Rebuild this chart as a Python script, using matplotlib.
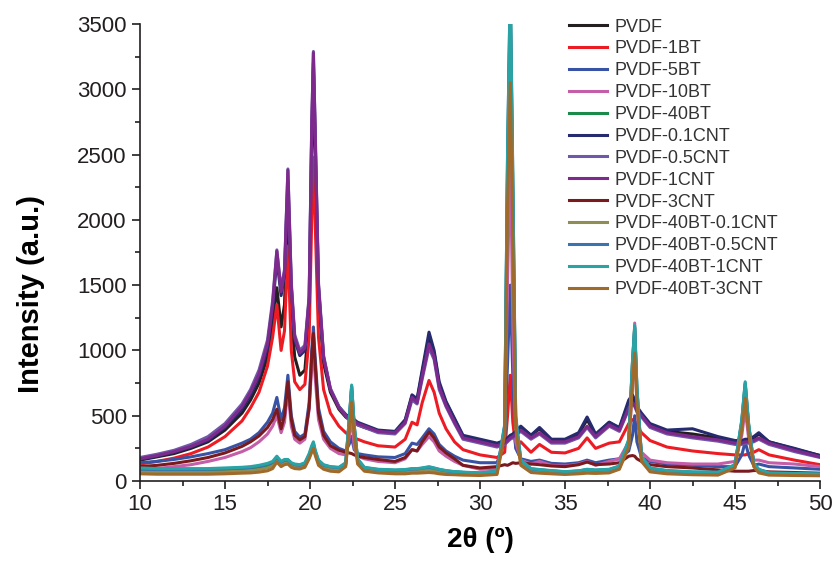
import numpy as np
import matplotlib
matplotlib.use("Agg")
import matplotlib.pyplot as plt
from matplotlib.ticker import MultipleLocator

plt.rcParams["font.family"] = ["Liberation Sans", "DejaVu Sans"]

# shared 2-theta grid (degrees)
two_theta = [
    10, 11, 12, 13, 14, 15, 16, 16.5, 17, 17.5,
    17.8, 18.05, 18.3, 18.5, 18.7, 18.9, 19.1, 19.4, 19.7, 19.95,
    20.1, 20.2, 20.3, 20.5, 20.8, 21.2, 21.7, 22.1, 22.3, 22.45,
    22.6, 22.8, 23.2, 24, 25, 25.6, 26.0, 26.3, 26.6, 27.0,
    27.3, 27.6, 28.0, 28.5, 29, 30, 31.0, 31.45, 31.62, 31.78,
    31.93, 32.1, 32.4, 33.0, 33.5, 34.2, 35, 35.8, 36.3, 36.8,
    37.6, 38.2, 38.75, 38.97, 39.1, 39.23, 39.5, 40, 41, 42.5,
    44, 45.0, 45.4, 45.6, 45.8, 46.1, 46.4, 47, 48.5, 50,
]

pvdf = [
    160, 185, 210, 250, 300, 390, 520, 620, 750, 950,
    1200, 1480, 1180, 1350, 2200, 1300, 950, 810, 850, 1250,
    2500, 3150, 2550, 1400, 900, 680, 550, 490, 470, 460,
    450, 430, 410, 380, 370, 460, 650, 620, 830, 1100,
    980, 740, 600, 470, 340, 310, 285, 300, 320, 340,
    350, 370, 410, 350, 400, 310, 310, 360, 470, 350,
    450, 400, 600, 640, 600, 560, 510, 430, 380, 360,
    330, 300, 300, 310, 310, 330, 360, 300, 245, 195,
]
pvdf_1bt = [
    130, 150, 175, 210, 260, 340, 460, 560, 680, 880,
    1100, 1350, 1000, 1150, 1800, 1000, 760, 700, 740, 1100,
    2000, 2480, 2000, 1100, 700, 520, 420, 370, 350, 340,
    330, 320, 300, 270, 260, 320, 450, 430, 600, 770,
    680, 520, 400, 300, 240, 200, 180, 220, 500, 810,
    450, 260, 300, 220, 280, 220, 215, 250, 330, 250,
    290, 300, 440, 470, 460, 420, 370, 310, 260, 230,
    210, 200, 200, 200, 210, 220, 240, 200, 160, 125,
]
pvdf_5bt = [
    140, 150, 165, 185, 210, 240, 290, 320, 370, 450,
    520, 640, 470, 560, 810, 500, 380, 335, 360, 600,
    1000, 1180, 950, 560, 380, 300, 250, 230, 280, 330,
    240, 210, 200, 185, 180, 210, 290, 280, 330, 400,
    360, 280, 230, 190, 160, 140, 140, 300, 900, 1500,
    800, 250, 170, 150, 160, 135, 130, 140, 160, 140,
    160, 170, 230, 350, 500, 300, 180, 150, 130, 120,
    110, 110, 200, 300, 200, 120, 130, 110, 100, 90,
]
pvdf_10bt = [
    85, 95, 110, 125, 150, 180, 225, 255, 300, 360,
    420, 500, 370, 450, 700, 420, 320, 290, 320, 550,
    870, 980, 800, 470, 320, 250, 210, 200, 330, 500,
    260, 190, 170, 150, 140, 170, 240, 230, 280, 340,
    300, 230, 190, 150, 120, 90, 90, 400, 1500, 2600,
    1200, 300, 160, 130, 150, 120, 115, 130, 150, 120,
    150, 170, 300, 700, 1210, 550, 220, 160, 140, 130,
    130, 150, 350, 550, 330, 160, 160, 140, 130, 110,
]
pvdf_40bt = [
    80, 80, 78, 78, 80, 82, 88, 92, 100, 115,
    130, 170, 140, 150, 160, 130, 120, 115, 130, 190,
    240, 280, 220, 150, 120, 105, 100, 130, 450, 720,
    420, 160, 100, 85, 80, 82, 90, 90, 95, 100,
    95, 85, 75, 70, 65, 60, 70, 400, 2400, 3700,
    2200, 450, 150, 90, 85, 75, 70, 75, 85, 80,
    85, 110, 300, 900, 1180, 700, 180, 95, 75, 65,
    65, 120, 450, 740, 430, 130, 85, 60, 55, 50,
]
pvdf_01cnt = [
    165, 190, 220, 260, 310, 410, 550, 660, 800, 1020,
    1320, 1700, 1420, 1580, 2300, 1480, 1080, 960, 1000, 1380,
    2650, 3200, 2650, 1480, 940, 700, 570, 510, 490, 480,
    470, 450, 430, 390, 380, 470, 660, 630, 850, 1140,
    1000, 760, 610, 480, 350, 320, 290, 310, 330, 350,
    360, 380, 420, 350, 410, 320, 320, 370, 490, 360,
    450, 410, 620, 660, 620, 570, 520, 440, 390, 400,
    340, 310, 310, 320, 320, 340, 370, 300, 250, 195,
]
pvdf_05cnt = [
    180, 205, 235, 280, 340, 440, 590, 700, 850, 1080,
    1380, 1770, 1470, 1620, 2390, 1520, 1120, 1000, 1040, 1420,
    2720, 3290, 2720, 1520, 960, 710, 570, 500, 470, 460,
    450, 430, 410, 370, 360, 440, 620, 590, 780, 1020,
    930, 700, 570, 440, 320, 290, 260, 280, 300, 320,
    330, 350, 380, 320, 360, 290, 290, 330, 410, 330,
    420, 380, 550, 590, 570, 530, 490, 410, 360, 330,
    305, 280, 280, 290, 290, 300, 320, 280, 225, 180,
]
pvdf_1cnt = [
    170, 195, 225, 265, 320, 420, 570, 680, 820, 1050,
    1350, 1760, 1450, 1600, 2380, 1500, 1100, 980, 1020, 1400,
    2700, 3280, 2700, 1500, 950, 700, 560, 500, 480, 470,
    460, 440, 420, 380, 370, 450, 640, 600, 800, 1050,
    950, 720, 580, 450, 330, 300, 270, 290, 310, 330,
    340, 360, 390, 330, 370, 300, 300, 340, 420, 340,
    430, 390, 560, 600, 580, 540, 500, 420, 370, 340,
    315, 290, 290, 300, 300, 310, 330, 290, 235, 185,
]
pvdf_3cnt = [
    110, 120, 135, 155, 180, 215, 265, 300, 345, 410,
    470, 550, 400, 500, 760, 470, 350, 315, 340, 560,
    950, 1130, 900, 520, 350, 270, 235, 220, 215, 210,
    200, 190, 180, 165, 150, 180, 240, 230, 300, 375,
    330, 260, 215, 170, 120, 100, 110, 125, 120, 130,
    140, 135, 140, 130, 125, 115, 110, 125, 145, 125,
    130, 140, 190, 195, 190, 170, 150, 125, 110, 100,
    85, 75, 75, 75, 75, 80, 80, 70, 65, 60,
]
pvdf_40bt_01cnt = [
    70, 68, 66, 66, 68, 70, 75, 80, 88, 100,
    115, 160, 125, 140, 145, 118, 108, 105, 118, 180,
    230, 265, 210, 135, 105, 90, 85, 120, 420, 670,
    390, 150, 90, 75, 70, 70, 76, 76, 80, 85,
    80, 72, 65, 60, 56, 52, 60, 380, 2300, 3600,
    2100, 430, 135, 80, 75, 65, 60, 66, 74, 70,
    74, 100, 280, 840, 1100, 650, 165, 82, 66, 58,
    56, 110, 420, 690, 400, 120, 75, 54, 50, 46,
]
pvdf_40bt_05cnt = [
    90, 88, 88, 88, 90, 94, 100, 105, 112, 128,
    142, 180, 145, 158, 160, 135, 125, 120, 135, 200,
    255, 290, 230, 155, 120, 108, 102, 135, 455, 725,
    425, 165, 102, 88, 82, 85, 92, 92, 98, 105,
    98, 88, 78, 70, 66, 60, 72, 430, 2500, 3800,
    2350, 500, 160, 92, 86, 78, 70, 76, 88, 82,
    88, 112, 310, 910, 1170, 710, 185, 98, 78, 68,
    66, 122, 460, 750, 435, 132, 88, 60, 56, 52,
]
pvdf_40bt_1cnt = [
    100, 95, 95, 95, 95, 100, 105, 110, 120, 135,
    150, 190, 150, 165, 165, 140, 130, 125, 140, 210,
    270, 300, 240, 160, 125, 110, 105, 140, 460, 735,
    430, 170, 105, 90, 85, 88, 95, 95, 100, 110,
    100, 90, 80, 72, 68, 62, 75, 420, 2500, 3800,
    2300, 480, 160, 95, 88, 80, 72, 78, 90, 85,
    90, 115, 320, 920, 1190, 720, 190, 100, 80, 70,
    68, 125, 470, 760, 440, 135, 90, 62, 58, 55,
]
pvdf_40bt_3cnt = [
    55, 52, 52, 52, 52, 55, 60, 62, 68, 78,
    95, 145, 110, 125, 130, 105, 95, 92, 105, 170,
    220, 250, 200, 120, 90, 75, 70, 110, 380, 605,
    350, 130, 75, 62, 55, 55, 60, 60, 62, 65,
    62, 55, 50, 48, 45, 42, 50, 350, 2100, 3050,
    1900, 400, 120, 65, 60, 55, 50, 55, 60, 58,
    62, 90, 260, 760, 980, 600, 150, 70, 55, 48,
    45, 100, 390, 635, 370, 110, 62, 45, 42, 40,
]

labels = ["PVDF", "PVDF-1BT", "PVDF-5BT", "PVDF-10BT", "PVDF-40BT",
          "PVDF-0.1CNT", "PVDF-0.5CNT", "PVDF-1CNT", "PVDF-3CNT",
          "PVDF-40BT-0.1CNT", "PVDF-40BT-0.5CNT", "PVDF-40BT-1CNT",
          "PVDF-40BT-3CNT"]
series = [pvdf, pvdf_1bt, pvdf_5bt, pvdf_10bt, pvdf_40bt,
          pvdf_01cnt, pvdf_05cnt, pvdf_1cnt, pvdf_3cnt,
          pvdf_40bt_01cnt, pvdf_40bt_05cnt, pvdf_40bt_1cnt, pvdf_40bt_3cnt]
colors = ["#231f20", "#ed1c24", "#3953a4", "#c45ea8", "#1b8a4a",
          "#262a6e", "#6f58a8", "#7d2a8c", "#7b1a1e",
          "#8f8d55", "#3b73b1", "#2aa3a5", "#a06a2a"]

fig = plt.figure(figsize=(8.36, 5.77), dpi=100)
ax = fig.add_axes([140 / 836, 96 / 577, 680 / 836, 457 / 577])

x = np.asarray(two_theta)
for y, lab, c in zip(series, labels, colors):
    ax.plot(x, np.asarray(y), color=c, lw=2.2, label=lab, solid_joinstyle="round")

ax.set_xlim(10, 50)
ax.set_ylim(0, 3500)
ax.xaxis.set_major_locator(MultipleLocator(5))
ax.xaxis.set_minor_locator(MultipleLocator(2.5))
ax.yaxis.set_major_locator(MultipleLocator(500))
ax.yaxis.set_minor_locator(MultipleLocator(250))
for side in ("top", "right"):
    ax.spines[side].set_visible(False)
for side in ("left", "bottom"):
    ax.spines[side].set_linewidth(1.2)
    ax.spines[side].set_color("#231f20")
ax.tick_params(which="major", direction="out", length=6, width=1.2,
               labelsize=16, colors="#231f20")
ax.tick_params(which="minor", direction="out", length=3.5, width=1.2,
               colors="#231f20")

ax.set_xlabel("2θ (º)", fontsize=20, fontweight="bold")
ax.set_ylabel("Intensity (a.u.)", fontsize=21, fontweight="bold")
ax.xaxis.set_label_coords(0.5, -0.1)
ax.yaxis.set_label_coords(-0.14, 0.41)

leg = ax.legend(loc="upper left", bbox_to_anchor=(0.631, 1.012), frameon=False,
                fontsize=13, handlelength=2.1, handletextpad=0.4,
                labelspacing=0.27, borderpad=0, borderaxespad=0)
for t in leg.get_texts():
    t.set_color("#333333")

fig.savefig("out.png", dpi=100)
